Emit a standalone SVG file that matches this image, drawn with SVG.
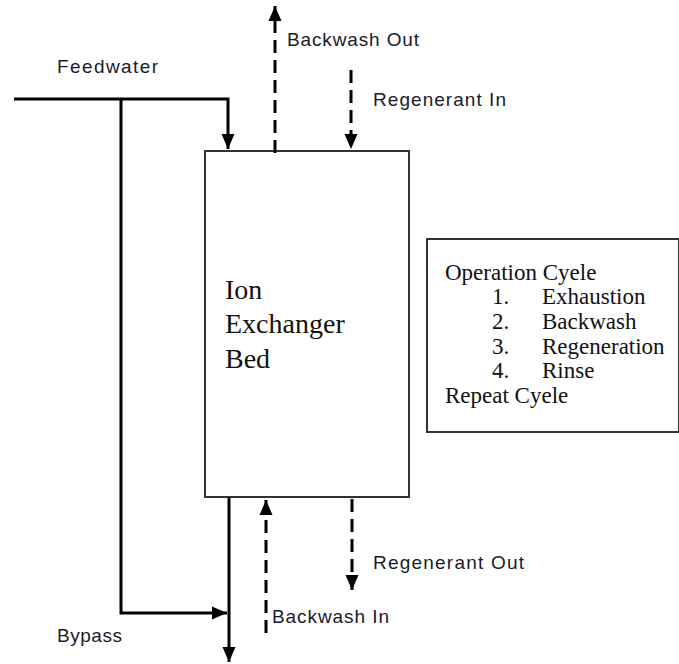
<svg xmlns="http://www.w3.org/2000/svg" width="679" height="664" viewBox="0 0 679 664">
<style>
.bg{fill:#fff}
.box{fill:#fff;stroke:#333;stroke-width:2}
.solid{fill:none;stroke:#000;stroke-width:3}
.dash{fill:none;stroke:#000;stroke-width:3;stroke-dasharray:13 7}
.lbl{font-family:"Liberation Sans",Arial,sans-serif;font-size:19px;fill:#1a1a2a}
.ser{font-family:"Liberation Serif","Times New Roman",serif;fill:#111}
</style>
<defs>
<marker id="ah" markerUnits="userSpaceOnUse" markerWidth="16" markerHeight="16" viewBox="0 0 16 16" refX="15" refY="8" orient="auto">
<path d="M0,1.5 L15,8 L0,14.5 Z" fill="#000"/>
</marker>
</defs>
<rect class="bg" x="0" y="0" width="679" height="664"/>

<g id="bed">
<rect class="box" x="205" y="151" width="204" height="346"/>
<text class="ser" font-size="28" x="225" y="299">Ion</text>
<text class="ser" font-size="28" x="225" y="333">Exchanger</text>
<text class="ser" font-size="28" x="225" y="368">Bed</text>
</g>

<g id="cycle">
<rect class="box" x="427" y="239" width="252" height="193"/>
<g class="ser" font-size="23">
<text x="445" y="280">Operation Cyele</text>
<text x="492" y="304">1.</text><text x="542" y="304">Exhaustion</text>
<text x="492" y="329">2.</text><text x="542" y="329">Backwash</text>
<text x="492" y="354">3.</text><text x="542" y="354">Regeneration</text>
<text x="492" y="378">4.</text><text x="542" y="378">Rinse</text>
<text x="445" y="403">Repeat Cyele</text>
</g>
</g>

<g id="connectors">
<path class="solid" d="M14,99 H228 V149" marker-end="url(#ah)"/>
<path class="solid" d="M121,99 V613 H227" marker-end="url(#ah)"/>
<path class="solid" d="M229,497 V662" marker-end="url(#ah)"/>
<path class="dash" d="M275,153 V6" marker-end="url(#ah)"/>
<path class="dash" d="M351,70 V149" marker-end="url(#ah)"/>
<path class="dash" d="M266,633 V500" marker-end="url(#ah)"/>
<path class="dash" d="M352,499 V590" marker-end="url(#ah)"/>
</g>

<g id="labels">
<text class="lbl" x="57" y="73" textLength="101" lengthAdjust="spacing">Feedwater</text>
<text class="lbl" x="287" y="46" textLength="132" lengthAdjust="spacing">Backwash Out</text>
<text class="lbl" x="373" y="106" textLength="133" lengthAdjust="spacing">Regenerant In</text>
<text class="lbl" x="373" y="569" textLength="151" lengthAdjust="spacing">Regenerant Out</text>
<text class="lbl" x="272" y="623" textLength="117" lengthAdjust="spacing">Backwash In</text>
<text class="lbl" x="57" y="642" textLength="65" lengthAdjust="spacing">Bypass</text>
</g>
</svg>
